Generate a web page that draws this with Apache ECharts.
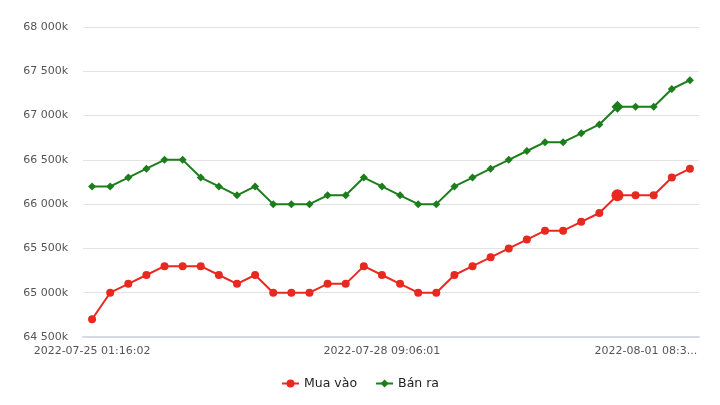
<!DOCTYPE html>
<html>
<head>
<meta charset="utf-8">
<script src="https://cdn.jsdelivr.net/npm/echarts@6/dist/echarts.min.js"></script>
<style>html,body{margin:0;padding:0;background:#fff}#c{width:720px;height:405px}</style>
</head>
<body>
<div id="c"></div>
<script>
var categories = [
  "2022-07-25 01:16:02","2022-07-25 08:30:01","2022-07-25 14:05:02","2022-07-25 20:10:01",
  "2022-07-26 02:15:02","2022-07-26 08:20:01","2022-07-26 13:45:02","2022-07-26 19:30:01",
  "2022-07-27 01:10:02","2022-07-27 07:05:01","2022-07-27 12:40:02","2022-07-27 18:15:01",
  "2022-07-28 00:05:02","2022-07-28 03:20:01","2022-07-28 06:10:02","2022-07-28 08:00:01",
  "2022-07-28 09:06:01","2022-07-28 15:20:02","2022-07-28 21:35:01","2022-07-29 03:50:02",
  "2022-07-29 10:05:01","2022-07-29 16:20:02","2022-07-29 22:35:01","2022-07-30 04:50:02",
  "2022-07-30 11:05:01","2022-07-30 17:20:02","2022-07-30 23:35:01","2022-07-31 05:50:02",
  "2022-07-31 12:05:01","2022-07-31 18:20:02","2022-08-01 00:35:01","2022-08-01 04:30:02",
  "2022-08-01 08:35:01","2022-08-01 14:50:02"
];
var muaVao = [
  64700,65000,65100,65200,65300,65300,65300,65200,65100,65200,
  65000,65000,65000,65100,65100,65300,65200,65100,65000,65000,
  65200,65300,65400,65500,65600,65700,65700,65800,65900,66100,
  66100,66100,66300,66400
];
var banRa = [
  66200,66200,66300,66400,66500,66500,66300,66200,66100,66200,
  66000,66000,66000,66100,66100,66300,66200,66100,66000,66000,
  66200,66300,66400,66500,66600,66700,66700,66800,66900,67100,
  67100,67100,67300,67400
];
var seriesNames = ["Mua vào", "Bán ra"];
var yMin = 64500, yMax = 68000, yStep = 500;
var activeIndex = 29;

function fmtK(v){
  return String(v).replace(/\B(?=(\d{3})+(?!\d))/g, " ") + "k";
}

var chart = echarts.init(document.getElementById('c'), null, {renderer:'canvas'});
chart.setOption({
  animation: false,
  textStyle: { fontFamily: "DejaVu Sans" },
  grid: { left: 83, right: 21, top: 27, bottom: 68 },
  legend: {
    bottom: 10,
    left: 'center',
    itemWidth: 17,
    itemHeight: 10,
    itemGap: 18,
    textStyle: { fontSize: 12.5, color: '#222', fontFamily: "DejaVu Sans" },
    data: seriesNames
  },
  xAxis: {
    type: 'category',
    data: categories,
    boundaryGap: true,
    axisLine: { lineStyle: { color: '#d6dbe3', width: 2 } },
    axisTick: { show: false },
    axisLabel: {
      interval: 15,
      color: '#555',
      fontSize: 11,
      margin: 9,
      formatter: function(v, i){
        if (i === 32) return '{r|' + v.slice(0, 15) + '...}';
        return v;
      },
      rich: { r: { fontSize: 11, color: '#555', padding: [0, 52, 0, 0] } }
    }
  },
  yAxis: {
    type: 'value',
    min: yMin, max: yMax, interval: yStep,
    axisLine: { show: false },
    axisTick: { show: false },
    splitLine: { lineStyle: { color: '#e3e3e3', width: 1 } },
    axisLabel: { color: '#555', fontSize: 11, margin: 15, formatter: fmtK }
  },
  series: [
    {
      name: seriesNames[0], type: 'line', data: muaVao,
      symbol: 'circle',
      symbolSize: function(v, p){ return p.dataIndex === activeIndex ? 12 : 8; },
      color: '#e8291f',
      lineStyle: { width: 2, color: '#e8291f' },
      itemStyle: { color: '#e8291f' }
    },
    {
      name: seriesNames[1], type: 'line', data: banRa,
      symbol: 'diamond',
      symbolSize: function(v, p){ return p.dataIndex === activeIndex ? 12 : 8; },
      color: '#1b7d1b',
      lineStyle: { width: 2, color: '#1b7d1b' },
      itemStyle: { color: '#1b7d1b' }
    }
  ]
});
</script>
</body>
</html>
